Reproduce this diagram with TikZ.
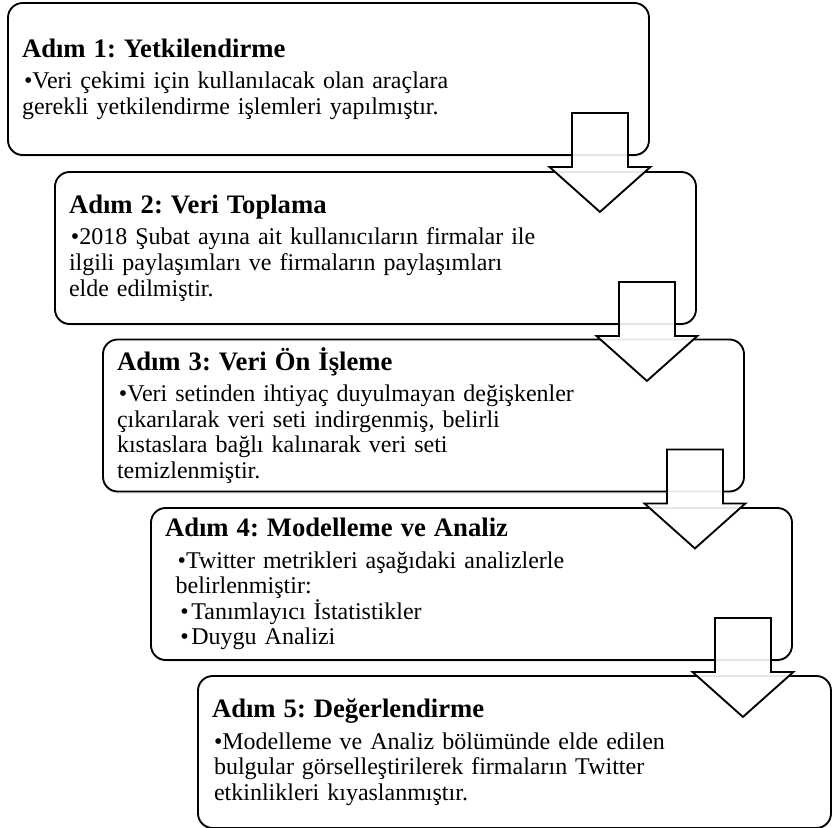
\documentclass[tikz,border=0pt]{standalone}
\usepackage{fontspec}
\setmainfont{Liberation Serif}[WordSpace=0.8]
\usetikzlibrary{calc,shadows}

\tikzset{
  stepbox/.style={draw, line width=1.4pt, rounded corners=11pt, fill=white,
    drop shadow={shadow xshift=0pt, shadow yshift=-1.5pt, opacity=0.15},
    minimum width=480.75pt, minimum height=114pt, inner xsep=10.5pt,
    text width=459.75pt, align=left,
    font=\frenchspacing\fontsize{18}{19.2}\selectfont},
  blockarrow/.style={draw, line width=1.4pt, fill=white, fill opacity=0.9,
    draw opacity=1},
}
\newcommand{\steptitle}[1]{{\bfseries\fontsize{20}{20}\selectfont #1}\\[4.5pt]}
\newcommand{\stepbullet}{\hspace*{1.5pt}\textbullet}

\begin{document}
\begin{tikzpicture}[x=0.75pt, y=-0.75pt]
  \useasboundingbox (0,0) rectangle (833,828);

  % boxes
  \node[stepbox] (b1) at (328.5,79) {\steptitle{Adım 1: Yetkilendirme}
    \stepbullet Veri çekimi için kullanılacak olan araçlara\\
    gerekli yetkilendirme işlemleri yapılmıştır.};
  \node[stepbox] (b2) at (375.5,248) {\steptitle{Adım 2: Veri Toplama}
    \stepbullet 2018 Şubat ayına ait kullanıcıların firmalar ile\\
    ilgili paylaşımları ve firmaların paylaşımları\\
    elde edilmiştir.};
  \node[stepbox] (b3) at (423.5,415.5) {\steptitle{Adım 3: Veri Ön İşleme}
    \stepbullet Veri setinden ihtiyaç duyulmayan değişkenler\\
    çıkarılarak veri seti indirgenmiş, belirli\\
    kıstaslara bağlı kalınarak veri seti\\
    temizlenmiştir.};
  \node[stepbox] (b4) at (471.5,584) {\steptitle{Adım 4: Modelleme ve Analiz}
    \hspace*{9.5pt}\textbullet Twitter metrikleri aşağıdaki analizlerle\\
    \hspace*{8pt}belirlenmiştir:\\
    \hspace*{11.5pt}\textbullet\hspace{2pt}Tanımlayıcı İstatistikler\\
    \hspace*{11.5pt}\textbullet\hspace{2pt}Duygu Analizi};
  \node[stepbox, minimum width=474.75pt, text width=453.75pt] (b5) at (514.5,752)
    {\steptitle{Adım 5: Değerlendirme}
    \stepbullet Modelleme ve Analiz bölümünde elde edilen\\
    \hspace*{1.5pt}bulgular görselleştirilerek firmaların Twitter\\
    \hspace*{1.5pt}etkinlikleri kıyaslanmıştır.};

  % arrows
  \foreach \n in {b1,b2,b3,b4}
    \draw[blockarrow] ($(\n.south east)+(-78,-43)$) -- ++(56,0) -- ++(0,54)
      -- ++(22.5,0) -- ++(-50.5,45) -- ++(-50.5,-45) -- ++(22.5,0) -- cycle;
\end{tikzpicture}
\end{document}
